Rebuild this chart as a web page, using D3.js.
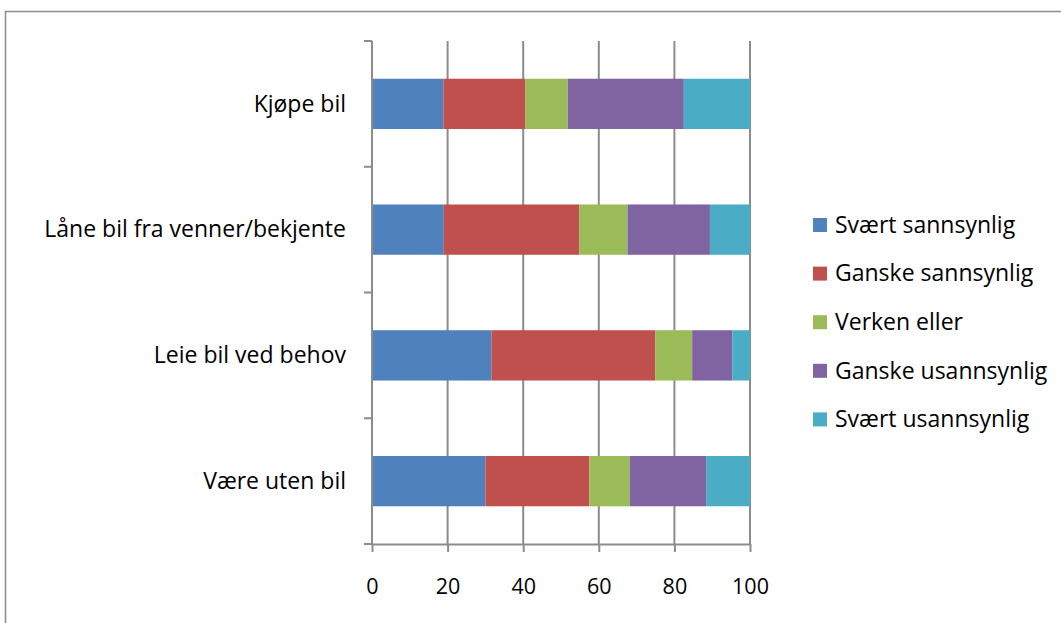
<!DOCTYPE html>
<html>
<head>
<meta charset="utf-8">
<script src="https://cdn.jsdelivr.net/npm/d3@7"></script>
<style>
  html, body { margin: 0; padding: 0; background: #fff; }
  svg { display: block; font-family: "Open Sans", Lato, sans-serif; }
</style>
</head>
<body>
<svg id="chart" width="1061" height="623"></svg>
<script>
// Alternatives, top to bottom
const categories = ["Kjøpe bil", "Låne bil fra venner/bekjente", "Leie bil ved behov", "Være uten bil"];
// Response options (stack order, left to right)
const seriesNames = ["Svært sannsynlig", "Ganske sannsynlig", "Verken eller", "Ganske usannsynlig", "Svært usannsynlig"];
const seriesColors = ["#4f81bd", "#c0504d", "#9bbb59", "#8064a2", "#4bacc6"];
// Percentages per alternative, one array per response option
const svaertSannsynlig   = [18.9, 19.0, 31.6, 30.0];
const ganskeSannsynlig   = [21.6, 35.8, 43.3, 27.5];
const verkenEller        = [11.3, 12.8,  9.8, 10.7];
const ganskeUsannsynlig  = [30.7, 21.8, 10.6, 20.2];
const svaertUsannsynlig  = [17.5, 10.6,  4.7, 11.6];
const xTicks = [0, 20, 40, 60, 80, 100];

const seriesValues = [svaertSannsynlig, ganskeSannsynlig, verkenEller, ganskeUsannsynlig, svaertUsannsynlig];
const rows = categories.map((c, i) => {
  const r = { category: c };
  seriesNames.forEach((s, j) => { r[s] = seriesValues[j][i]; });
  return r;
});

const FONT = "'Open Sans', Lato, sans-serif";
const FS = 23;       // category and legend labels
const FS_TICK = 21.5; // value axis labels
const svg = d3.select("#chart");
const plot = { left: 372, right: 750, top: 41, bottom: 544 };

// Outer chart frame
svg.append("rect")
  .attr("x", 5.5).attr("y", 11.5)
  .attr("width", 1070).attr("height", 630)
  .attr("fill", "none").attr("stroke", "#8c8c8c").attr("stroke-width", 1.5);

const x = d3.scaleLinear().domain([0, 100]).range([plot.left, plot.right]);
const y = d3.scaleBand().domain(categories).range([plot.top, plot.bottom]).paddingInner(0.6).paddingOuter(0.3);

// Vertical gridlines
svg.append("g")
  .selectAll("line")
  .data(xTicks.slice(1))
  .join("line")
  .attr("x1", d => x(d)).attr("x2", d => x(d))
  .attr("y1", plot.top).attr("y2", plot.bottom)
  .attr("stroke", "#8c8c8c").attr("stroke-width", 2);

// Stacked bars
const stack = d3.stack().keys(seriesNames)(rows);
svg.append("g")
  .selectAll("g")
  .data(stack)
  .join("g")
  .attr("fill", (d, i) => seriesColors[i])
  .selectAll("rect")
  .data(d => d)
  .join("rect")
  .attr("x", d => x(d[0]))
  .attr("width", d => x(d[1]) - x(d[0]))
  .attr("y", d => y(d.data.category))
  .attr("height", y.bandwidth());

// Category axis (left)
const yAxis = svg.append("g");
yAxis.append("line")
  .attr("x1", plot.left).attr("x2", plot.left)
  .attr("y1", plot.top).attr("y2", plot.bottom)
  .attr("stroke", "#8c8c8c").attr("stroke-width", 2);
const bounds = d3.range(categories.length + 1).map(i => plot.top + i * (plot.bottom - plot.top) / categories.length);
yAxis.selectAll("line.tick")
  .data(bounds)
  .join("line")
  .attr("class", "tick")
  .attr("x1", plot.left - 8).attr("x2", plot.left)
  .attr("y1", d => d).attr("y2", d => d)
  .attr("stroke", "#8c8c8c").attr("stroke-width", 2);
yAxis.selectAll("text")
  .data(categories)
  .join("text")
  .attr("x", 346)
  .attr("y", d => y(d) + y.bandwidth() / 2)
  .attr("dy", "0.34em")
  .attr("text-anchor", "end")
  .attr("font-size", FS)
  .attr("fill", "#000")
  .text(d => d);

// Value axis (bottom)
const xAxis = svg.append("g")
  .attr("transform", `translate(0,${plot.bottom})`)
  .call(d3.axisBottom(x).tickValues(xTicks).tickSize(8).tickPadding(27).tickSizeOuter(0));
xAxis.select(".domain").attr("stroke", "#8c8c8c").attr("stroke-width", 2);
xAxis.selectAll(".tick line").attr("stroke", "#8c8c8c").attr("stroke-width", 2);
xAxis.selectAll(".tick text").attr("font-size", FS_TICK).attr("fill", "#000").attr("font-family", FONT);

// Legend
const legend = svg.append("g")
  .selectAll("g")
  .data(seriesNames)
  .join("g")
  .attr("transform", (d, i) => `translate(813,${225 + i * 48.6})`);
legend.append("rect")
  .attr("x", 0).attr("y", -7)
  .attr("width", 14).attr("height", 14)
  .attr("fill", (d, i) => seriesColors[i]);
legend.append("text")
  .attr("x", 22).attr("dy", "0.34em")
  .attr("font-size", FS).attr("fill", "#000")
  .text(d => d);
</script>
</body>
</html>
